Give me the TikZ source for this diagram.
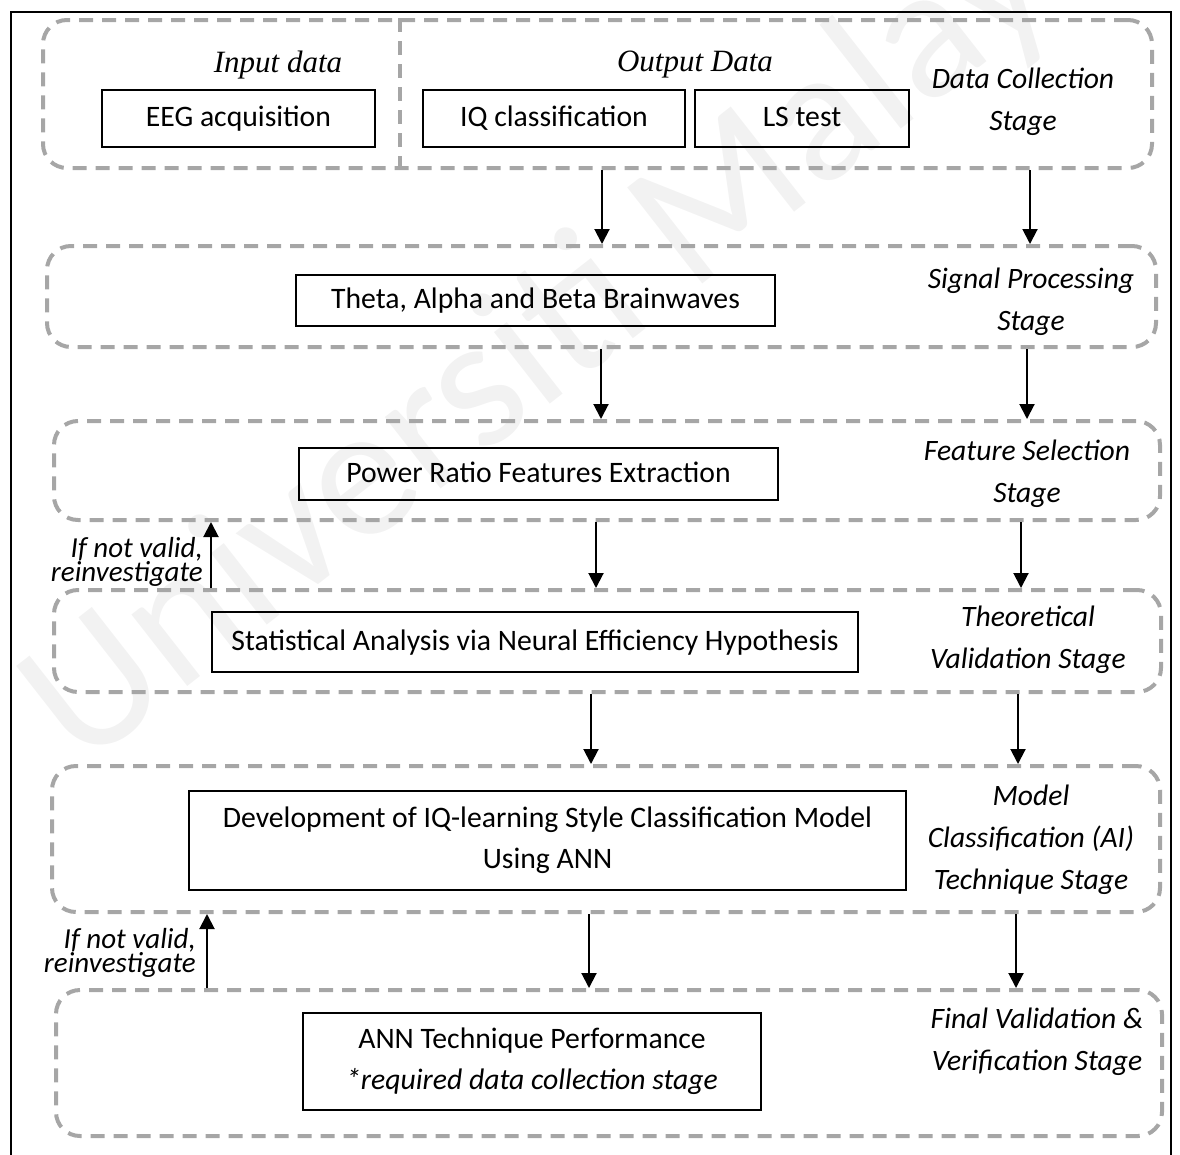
\documentclass[tikz,border=0pt]{standalone}
\usepackage{fontspec}
\setmainfont{Carlito}
\newfontfamily\tnr{Liberation Serif}
\usetikzlibrary{arrows.meta}
\definecolor{dashgray}{HTML}{A6A6A6}
\definecolor{wmgray}{HTML}{F2F2F2}

\begin{document}
\begin{tikzpicture}[x=1pt,y=-1pt,
  stage/.style={draw=dashgray, line width=4pt, dash pattern=on 14pt off 9pt,
                rounded corners=24pt, inner sep=0pt},
  box/.style={draw=black, line width=1.3pt, inner sep=0pt, align=center,
              font=\fontsize{29.7}{41}\selectfont},
  lbl/.style={font=\fontsize{29.6}{42}\selectfont\itshape, align=center, inner sep=0pt},
  fb/.style={font=\fontsize{29}{24}\selectfont\itshape, align=right, inner sep=0pt, anchor=east},
  head/.style={font=\tnr\itshape\fontsize{31}{36}\selectfont, inner sep=0pt},
  arr/.style={line width=2pt, -{Triangle[length=15pt,width=15pt]}}]

\useasboundingbox (0,0) rectangle (1180,1154);

% watermark
\node[rotate=38, text=wmgray, font=\fontsize{190}{190}\selectfont] (wm) at (575,320) {Universiti Malaya};

% outer frame
\draw[line width=1.5pt] (11,1170) -- (11,12) -- (1171,12) -- (1171,1170);

% stage containers
\node[stage, minimum width=1109pt, minimum height=148pt] (s1) at (597.5,94) {};
\node[stage, minimum width=1109pt, minimum height=101pt] (s2) at (601.5,296.5) {};
\node[stage, minimum width=1106pt, minimum height=99pt]  (s3) at (607,470.5) {};
\node[stage, minimum width=1107pt, minimum height=102pt] (s4) at (607.5,641) {};
\node[stage, minimum width=1108pt, minimum height=146pt] (s5) at (606,839) {};
\node[stage, minimum width=1106pt, minimum height=146pt] (s6) at (609,1063) {};

% divider between input and output data
\coordinate (dv) at (400,0);
\draw[draw=dashgray, line width=4pt, dash pattern=on 14pt off 9pt]
  (s1.north -| dv) -- (s1.south -| dv);

% headings
\node[head] (inp) at (278,65) {Input data};
\node[head] (outp) at (695,65) {Output Data};

% process boxes
\node[box, minimum width=273pt, minimum height=57pt] (eeg) at (238.5,118.5) {\strut EEG acquisition};
\node[box, minimum width=262pt, minimum height=57pt] (iq) at (554,118.5) {\strut IQ classification};
\node[box, minimum width=214pt, minimum height=57pt] (ls) at (802,118.5) {\strut LS test};
\node[box, minimum width=479pt, minimum height=51pt] (b2) at (535.5,300.5) {\strut Theta, Alpha and Beta Brainwaves};
\node[box, minimum width=479pt, minimum height=52pt] (b3) at (538.5,474) {\strut Power Ratio Features Extraction};
\node[box, minimum width=646pt, minimum height=60pt] (b4) at (535,642) {\strut Statistical Analysis via Neural Efficiency Hypothesis};
\node[box, minimum width=717pt, minimum height=99pt] (b5) at (547.5,840.5)
  {Development of IQ-learning Style Classification Model\\Using ANN};
\node[box, minimum width=458pt, minimum height=97pt] (b6) at (532,1061.5)
  {ANN Technique Performance\\\textit{*required data collection stage}};

% stage labels
\node[lbl] (t1) at (1023,102) {Data Collection\\Stage};
\node[lbl] (t2) at (1031,302) {Signal Processing\\Stage};
\node[lbl] (t3) at (1027,474) {Feature Selection\\Stage};
\node[lbl] (t4) at (1028,639.5) {Theoretical\\Validation Stage};
\node[lbl] (t5) at (1031,840) {Model\\Classification (AI)\\Technique Stage};
\node[lbl] (t6) at (1037,1042) {Final Validation \&\\Verification Stage};

% flow arrows between stages
\foreach \a/\b/\xl/\xr in {s1/s2/602/1030, s2/s3/601/1027, s3/s4/596/1021,
                          s4/s5/591/1018, s5/s6/589/1016}{
  \coordinate (cl) at (\xl,0);
  \coordinate (cr) at (\xr,0);
  \draw[arr] (\a.south -| cl) -- (\b.north -| cl);
  \draw[arr] (\a.south -| cr) -- (\b.north -| cr);
}

% feedback loops
\coordinate (f1) at (211,0);
\coordinate (f2) at (207,0);
\draw[arr] (s4.north -| f1) -- (s3.south -| f1);
\draw[arr] (s6.north -| f2) -- (s5.south -| f2);
\node[fb] (fb1) at (203,562) {If not valid,\\reinvestigate};
\node[fb] (fb2) at (196,953) {If not valid,\\reinvestigate};

\end{tikzpicture}
\end{document}
